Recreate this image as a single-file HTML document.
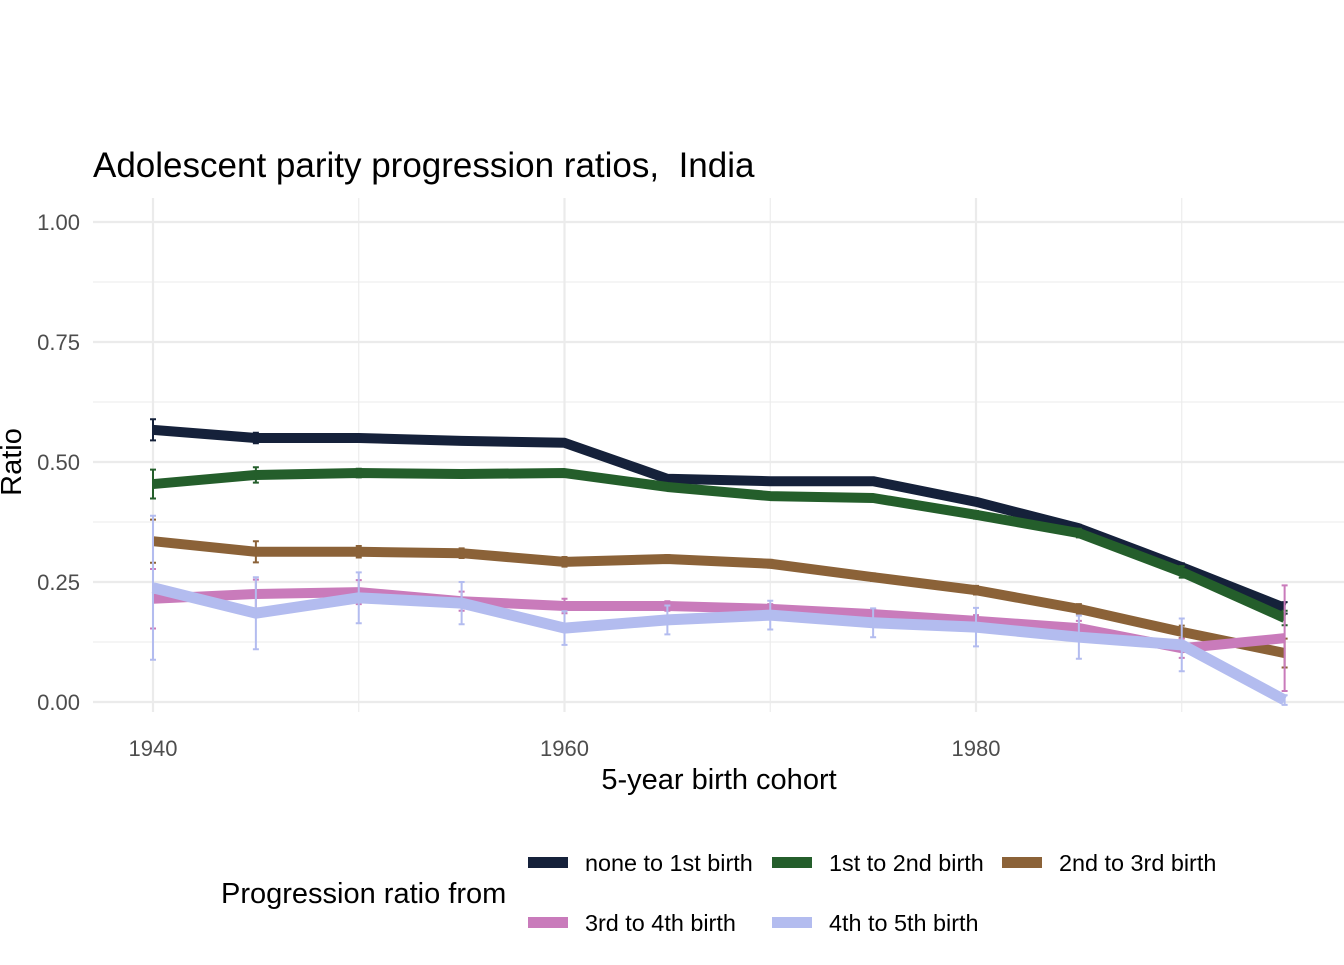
<!DOCTYPE html>
<html><head><meta charset="utf-8"><style>
body{margin:0;background:#fff;}
svg text{font-family:"Liberation Sans",Arial,sans-serif;}
</style></head><body>
<svg id="chart" width="1344" height="960" xmlns="http://www.w3.org/2000/svg">
<rect width="1344" height="960" fill="#fff"/>
<text x="93" y="177" font-size="35" fill="#000" style="font-size:35px;white-space:pre">Adolescent parity progression ratios,&#160; India</text>
<g id="grid"></g>
<g id="series"></g>
<g id="axes"></g>
<text x="719" y="789" font-size="29" text-anchor="middle" style="font-size:29px">5-year birth cohort</text>
<text transform="translate(21,462) rotate(-90)" font-size="29" text-anchor="middle" style="font-size:29px">Ratio</text>
<g id="legend">
<text x="221" y="903" font-size="29" style="font-size:29px">Progression ratio from</text>
</g>
</svg>
<script>
const years=[1940,1945,1950,1955,1960,1965,1970,1975,1980,1985,1990,1995];
const seriesNames=["none to 1st birth","1st to 2nd birth","2nd to 3rd birth","3rd to 4th birth","4th to 5th birth"];
const colors=["#15213a","#245e2b","#8b6238","#c97bbb","#b3bcef"];
const noneTo1st=[0.567,0.55,0.55,0.544,0.54,0.465,0.46,0.46,0.417,0.362,0.281,0.196];
const firstTo2nd=[0.454,0.473,0.477,0.475,0.477,0.448,0.429,0.425,0.39,0.352,0.271,0.175];
const secondTo3rd=[0.335,0.313,0.313,0.31,0.292,0.298,0.288,0.26,0.233,0.194,0.146,0.102];
const thirdTo4th=[0.215,0.225,0.229,0.21,0.2,0.2,0.194,0.183,0.169,0.154,0.112,0.133];
const fourthTo5th=[0.238,0.185,0.217,0.206,0.154,0.171,0.181,0.165,0.156,0.135,0.119,0.004];
const err1=[0.022,0.011,0.006,0.005,0.005,0.005,0.005,0.005,0.006,0.007,0.008,0.012];
const err2=[0.03,0.016,0.009,0.006,0.006,0.006,0.006,0.007,0.008,0.009,0.012,0.015];
const err3=[0.045,0.022,0.012,0.01,0.01,0.008,0.008,0.008,0.009,0.01,0.013,0.03];
const err4=[0.062,0.03,0.025,0.02,0.015,0.01,0.01,0.01,0.012,0.015,0.02,0.11];
const err5=[0.15,0.075,0.053,0.044,0.035,0.03,0.03,0.03,0.04,0.045,0.055,0.01];
const yTicks=[0,0.25,0.5,0.75,1.0];
const yTickLabels=["0.00","0.25","0.50","0.75","1.00"];
const xTicks=[1940,1960,1980];
const allSeries=[noneTo1st,firstTo2nd,secondTo3rd,thirdTo4th,fourthTo5th];
const allErr=[err1,err2,err3,err4,err5];
const NS="http://www.w3.org/2000/svg";
const X=v=>153+(v-1940)*(976-153)/40;
const Y=v=>702-v*480;
function mk(t,a,p){const e=document.createElementNS(NS,t);for(const k in a)e.setAttribute(k,a[k]);p.appendChild(e);return e;}
const grid=document.getElementById('grid'),axes=document.getElementById('axes'),ser=document.getElementById('series'),leg=document.getElementById('legend');
for(let v=0;v<=1.0001;v+=0.125){const major=Math.abs(v*4-Math.round(v*4))<1e-6;
 const l=mk('line',{x1:93,x2:1344,y1:Y(v),y2:Y(v),stroke:'#ebebeb','stroke-width':major?2.2:1.1},grid);
 
 }
for(let yr=1940;yr<=1990;yr+=10){const major=yr%20===0;
 const l=mk('line',{x1:X(yr),x2:X(yr),y1:198,y2:712,stroke:'#ebebeb','stroke-width':major?2.2:1.1},grid);
 
 }
yTicks.forEach((v,i)=>{const t=mk('text',{x:80,y:Y(v)+8,'text-anchor':'end','font-size':22,fill:'#4d4d4d'},axes);t.textContent=yTickLabels[i];
 
 });
xTicks.forEach(v=>{const t=mk('text',{x:X(v),y:756,'text-anchor':'middle','font-size':22,fill:'#4d4d4d'},axes);t.textContent=v;
 
 });
allSeries.forEach((s,i)=>{
 const g=mk('g',{},ser);
 
 
 const pts=s.map((v,j)=>X(years[j])+','+Y(v)).join(' ');
 const pl=mk('polyline',{points:pts,fill:'none',stroke:colors[i],'stroke-width':i===4?11:10,'stroke-linejoin':'round'},g);
 
 
 s.forEach((v,j)=>{const x=X(years[j]),e=allErr[i][j];
  const eb=mk('path',{d:`M${x-3},${Y(v+e)}H${x+3}M${x},${Y(v+e)}V${Y(v-e)}M${x-3},${Y(v-e)}H${x+3}`,stroke:colors[i],'stroke-width':2,fill:'none'},g);
  
  });
});
const legPos=[[528,863],[772,863],[1002,863],[528,923],[772,923]];
seriesNames.forEach((n,i)=>{const [x,y]=legPos[i];
 const r=mk('rect',{x:x,y:y-6,width:40,height:11,fill:colors[i]},leg);
 
 
 const t=mk('text',{x:x+57,y:y+8,'font-size':23.4},leg);t.textContent=n;
 
 });
</script>
</body></html>
